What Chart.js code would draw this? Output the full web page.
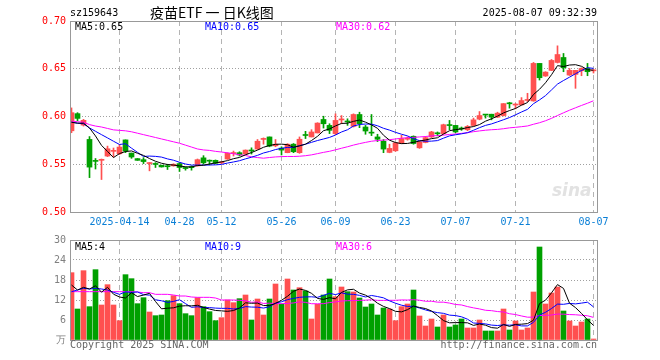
<!DOCTYPE html>
<html><head><meta charset="utf-8">
<script src="https://cdn.jsdelivr.net/npm/chart.js@4.4.1/dist/chart.umd.min.js"></script>
<style>
html,body{margin:0;padding:0;background:#fff;}
#wrap{position:relative;width:660px;height:360px;overflow:hidden;font-family:"DejaVu Sans Mono",monospace;}
canvas{position:absolute;left:0;}
.t{position:absolute;white-space:pre;font-size:10px;line-height:12px;}
</style></head><body>
<div id="wrap">
<canvas id="pc" width="660" height="230" style="top:0px"></canvas>
<canvas id="vc" width="660" height="130" style="top:230px"></canvas>
<div class="t" style="left:70px;top:7px;color:#000">sz159643</div>
<div class="t" style="left:150px;top:4px;font-family:'Noto Sans CJK SC';font-size:14px;line-height:17px;color:#000">疫苗ETF 一 日K线图</div>
<div class="t" style="right:63px;top:7px;color:#000">2025-08-07 09:32:39</div>
<div class="t" id="pm5" style="left:75px;top:21px;color:#000"></div>
<div class="t" id="pm10" style="left:205px;top:21px;color:#0000ff"></div>
<div class="t" id="pm30" style="left:336px;top:21px;color:#ff00ff"></div>
<div class="t" id="vm5" style="left:75px;top:241px;color:#000"></div>
<div class="t" id="vm10" style="left:205px;top:241px;color:#0000ff"></div>
<div class="t" id="vm30" style="left:336px;top:241px;color:#ff00ff"></div>
<div class="t" style="left:70px;top:339px;color:#666">Copyright 2025 SINA.COM</div>
<div class="t" style="right:63px;top:339px;color:#666">http://finance.sina.com.cn</div>
<div class="t" style="left:552px;top:180px;color:#e2e2e2;font-family:'DejaVu Sans';font-style:italic;font-weight:bold;font-size:17px;line-height:20px">sina</div>
</div>
<script>
const tickIdx=[8,18,25,35,44,54,64,74,87];
const tickLabels=['2025-04-14','04-28','05-12','05-26','06-09','06-23','07-07','07-21','08-07'];
const priceTicks=[0.50,0.55,0.60,0.65,0.70];
const volTicks=[0,6,12,18,24,30];

const openP=[0.585,0.603,0.591,0.576,0.554,0.5541,0.5586,0.5635,0.561,0.5755,
0.5617,0.5559,0.5548,0.5507,0.5502,0.549,0.5478,0.5483,0.5507,0.5466,
0.5467,0.5483,0.5567,0.5536,0.5541,0.5515,0.5555,0.5612,0.5621,0.5607,
0.5643,0.5659,0.576,0.5786,0.5693,0.5669,0.5621,0.571,0.5621,0.5805,
0.5786,0.5828,0.5969,0.5907,0.5821,0.5964,0.5947,0.5897,0.6021,0.589,
0.583,0.5786,0.5741,0.5624,0.5641,0.5717,0.5762,0.5793,0.5672,0.5728,
0.5786,0.5823,0.5821,0.5909,0.5907,0.5873,0.5861,0.5906,0.5972,0.6019,
0.6024,0.5993,0.601,0.6137,0.612,0.6122,0.6168,0.6163,0.6556,0.6424,
0.6483,0.6566,0.6618,0.6434,0.6441,0.6479,0.6503,0.6478];
const highP=[0.609,0.604,0.597,0.579,0.556,0.5555,0.569,0.567,0.5707,0.5755,
0.5617,0.556,0.5569,0.5517,0.5517,0.549,0.55,0.5505,0.5517,0.5472,
0.5483,0.5555,0.559,0.5545,0.5545,0.553,0.562,0.5638,0.5631,0.565,
0.5672,0.5759,0.5776,0.5786,0.5759,0.5683,0.5715,0.5717,0.5786,0.5845,
0.5862,0.5935,0.6003,0.5924,0.6028,0.601,0.5976,0.6028,0.6045,0.5907,
0.6021,0.5814,0.5759,0.571,0.573,0.5803,0.5786,0.5797,0.5738,0.579,
0.5845,0.5838,0.592,0.5959,0.5907,0.589,0.5906,0.5983,0.6052,0.6019,
0.6024,0.6045,0.6135,0.6149,0.6135,0.6198,0.6243,0.6566,0.6556,0.6469,
0.6597,0.674,0.666,0.6503,0.6483,0.651,0.6556,0.649];
const lowP=[0.583,0.5955,0.59,0.536,0.545,0.534,0.558,0.5576,0.56,0.5621,
0.5562,0.5541,0.5507,0.5431,0.5466,0.547,0.5445,0.548,0.5424,0.5438,
0.5438,0.548,0.55,0.5493,0.5505,0.5505,0.555,0.5586,0.5586,0.5605,
0.5607,0.5655,0.571,0.5683,0.5683,0.5597,0.562,0.5621,0.5614,0.5769,
0.5786,0.5828,0.5879,0.5821,0.581,0.5924,0.5907,0.589,0.5883,0.5814,
0.58,0.5738,0.5621,0.562,0.5635,0.5715,0.5752,0.571,0.5666,0.5724,
0.578,0.5797,0.5814,0.5862,0.583,0.5855,0.5851,0.59,0.5965,0.5983,
0.5965,0.599,0.6005,0.6087,0.608,0.612,0.6156,0.616,0.6382,0.642,
0.648,0.656,0.6469,0.643,0.6295,0.6427,0.6427,0.6455];
const closeP=[0.604,0.598,0.596,0.547,0.553,0.5548,0.5662,0.564,0.568,0.5638,
0.5576,0.5541,0.5528,0.5514,0.5498,0.5472,0.5474,0.55,0.5466,0.5455,
0.5464,0.5548,0.5515,0.5532,0.551,0.552,0.5614,0.5616,0.5597,0.5648,
0.5639,0.5741,0.5764,0.569,0.571,0.5648,0.571,0.5631,0.5762,0.5801,
0.5838,0.5931,0.5924,0.5855,0.5959,0.5968,0.5943,0.6021,0.5924,0.5848,
0.5826,0.5762,0.5659,0.5666,0.5724,0.5769,0.5772,0.5717,0.5734,0.5779,
0.5838,0.5819,0.5914,0.5905,0.5838,0.5869,0.5896,0.5965,0.601,0.6015,
0.5993,0.6035,0.6135,0.6133,0.6124,0.6167,0.6172,0.6556,0.6406,0.6465,
0.6587,0.6649,0.651,0.6483,0.6483,0.6503,0.6469,0.6485];
const volume=[20.2,9.3,20.8,10.0,21.1,10.5,16.6,10.5,5.8,19.6,
18.4,10.9,12.7,8.4,7.3,7.5,11.8,13.3,10.9,7.9,
7.3,12.7,10.0,8.5,5.8,6.7,12.0,11.2,12.4,13.5,
6.0,12.3,7.5,12.3,16.8,10.7,18.3,15.0,15.7,14.7,
6.3,10.7,13.5,18.3,13.0,15.9,14.5,14.4,12.6,9.9,
10.8,7.5,9.6,9.3,5.8,10.0,10.8,15.0,7.2,4.2,
6.3,3.9,7.5,3.9,4.5,6.3,3.6,3.6,6.0,2.7,
2.7,2.7,9.3,3.0,5.7,3.0,3.6,14.4,27.9,10.8,
14.1,15.9,8.7,5.7,4.2,5.4,6.3,0.3];
// moving-average values before enough history is shown
const ma5Head=[0.594,0.593,0.593,0.588];
const ma10Head=[0.594,0.593,0.5924,0.588,0.5845,0.581,0.5776,0.5741,0.5707];
const ma30Head=[0.5952,0.5945,0.594,0.5915,0.590,0.589,0.5875,0.586,0.5855,0.585,
0.584,0.5825,0.581,0.5795,0.578,0.5765,0.575,0.5735,0.572,0.570,
0.568,0.566,0.565,0.5645,0.5635,0.5628,0.562,0.561,0.560];
const vma5Head=[16.5,15.0,15.8,15.3];
const vma10Head=[14.5,15.0,15.5,15.3,15.5,15.3,15.0,14.3,13.7];
const vma30Head=[14.5,14.5,14.5,14.5,14.5,14.5,14.5,14.5,14.5,14.5,
14.5,14.4,14.2,14.2,13.7,13.7,13.7,13.5,13.2,13.2,
12.9,12.8,12.8,12.8,12.6,12.0,12.0,12.0,11.9];

const UP='#ff5050', DOWN='#00a000';
function movingAvg(vals,n,head){
  return vals.map((v,i)=>{
    if(i<n-1) return head[i];
    let s=0; for(let j=i-n+1;j<=i;j++) s+=vals[j];
    return s/n;
  });
}
const ma5=movingAvg(closeP,5,ma5Head), ma10=movingAvg(closeP,10,ma10Head), ma30=movingAvg(closeP,30,ma30Head);
const vma5=movingAvg(volume,5,vma5Head), vma10=movingAvg(volume,10,vma10Head), vma30=movingAvg(volume,30,vma30Head);
const colors=closeP.map((c,i)=>c>=openP[i]?UP:DOWN);
const N=closeP.length;
const last=N-1;
document.getElementById('pm5').textContent='MA5:'+ma5[last].toFixed(2);
document.getElementById('pm10').textContent='MA10:'+ma10[last].toFixed(2);
document.getElementById('pm30').textContent='MA30:'+ma30[last].toFixed(2);
document.getElementById('vm5').textContent='MA5:'+Math.floor(vma5[last]);
document.getElementById('vm10').textContent='MA10:'+Math.floor(vma10[last]);
document.getElementById('vm30').textContent='MA30:'+Math.floor(vma30[last]);

const pts=arr=>arr.map((v,i)=>({x:i,y:v}));
const lineDs=(arr,color)=>({type:'line',data:pts(arr),borderColor:color,borderWidth:1,pointRadius:0,tension:0,order:0});
const barBase={type:'bar',grouped:false,barPercentage:1,categoryPercentage:1,borderWidth:0};
const frame={id:'frame',afterDraw(c){const {ctx,chartArea:a}=c;ctx.save();ctx.strokeStyle='#999';ctx.lineWidth=1;
  ctx.strokeRect(Math.round(a.left)+0.5,Math.round(a.top)+0.5,Math.round(a.right-a.left),Math.round(a.bottom-a.top));ctx.restore();}};
const monoFont={family:'DejaVu Sans Mono',size:10};
function xScale(showLabels,h){
  return {type:'linear',offset:false,min:-0.25,max:87.5833,
    afterBuildTicks:s=>{s.ticks=tickIdx.map(v=>({value:v}));},
    afterFit:s=>{s.height=h;},
    grid:{drawTicks:false,offset:false,color:'#b4b4b4',lineWidth:1},
    border:{display:false,dash:[5,4]},
    ticks:{display:showLabels,autoSkip:false,maxRotation:0,padding:4,color:'#0a7fd6',font:monoFont,
      callback:(v,i)=>tickLabels[i]}};
}
new Chart(document.getElementById('pc'),{
  type:'bar',
  data:{datasets:[
    lineDs(ma5,'#000000'),lineDs(ma10,'#0000ff'),lineDs(ma30,'#ff00ff'),
    Object.assign({},barBase,{data:openP.map((o,i)=>({x:i,y:[o,closeP[i]]})),backgroundColor:colors,maxBarThickness:5,minBarLength:1,order:1}),
    Object.assign({},barBase,{data:lowP.map((l,i)=>({x:i,y:[l,highP[i]]})),backgroundColor:colors,maxBarThickness:1,minBarLength:1,order:2})
  ]},
  options:{responsive:false,animation:false,events:[],
    layout:{padding:{top:21,right:63,left:0,bottom:0}},
    plugins:{legend:{display:false},tooltip:{enabled:false}},
    scales:{
      x:xScale(true,18),
      y:{type:'linear',min:0.5,max:0.7,beginAtZero:false,
        afterBuildTicks:s=>{s.ticks=priceTicks.map(v=>({value:v}));},
        afterFit:s=>{s.width=70;},
        grid:{drawTicks:false,color:c=>(c.index===0||c.index===priceTicks.length-1)?'rgba(0,0,0,0)':'#a0a0a0'},
        border:{display:false,dash:[1,2]},
        ticks:{padding:4,font:monoFont,color:'#ff0000',callback:v=>v.toFixed(2)}}
    }},
  plugins:[frame]
});
new Chart(document.getElementById('vc'),{
  type:'bar',
  data:{datasets:[
    lineDs(vma5,'#000000'),lineDs(vma10,'#0000ff'),lineDs(vma30,'#ff00ff'),
    Object.assign({},barBase,{data:volume.map((v,i)=>({x:i,y:v})),backgroundColor:colors,maxBarThickness:5,order:1})
  ]},
  options:{responsive:false,animation:false,events:[],
    layout:{padding:{top:10,right:63,left:0,bottom:0}},
    plugins:{legend:{display:false},tooltip:{enabled:false}},
    scales:{
      x:xScale(false,20),
      y:{type:'linear',min:0,max:30,beginAtZero:true,
        afterBuildTicks:s=>{s.ticks=volTicks.map(v=>({value:v}));},
        afterFit:s=>{s.width=70;},
        grid:{drawTicks:false,color:c=>(c.index===0||c.index===volTicks.length-1)?'rgba(0,0,0,0)':'#a0a0a0'},
        border:{display:false,dash:[1,2]},
        ticks:{padding:4,font:monoFont,color:'#808080',callback:v=>v===0?'万':String(v)}}
    }},
  plugins:[frame]
});
</script>
</body></html>
